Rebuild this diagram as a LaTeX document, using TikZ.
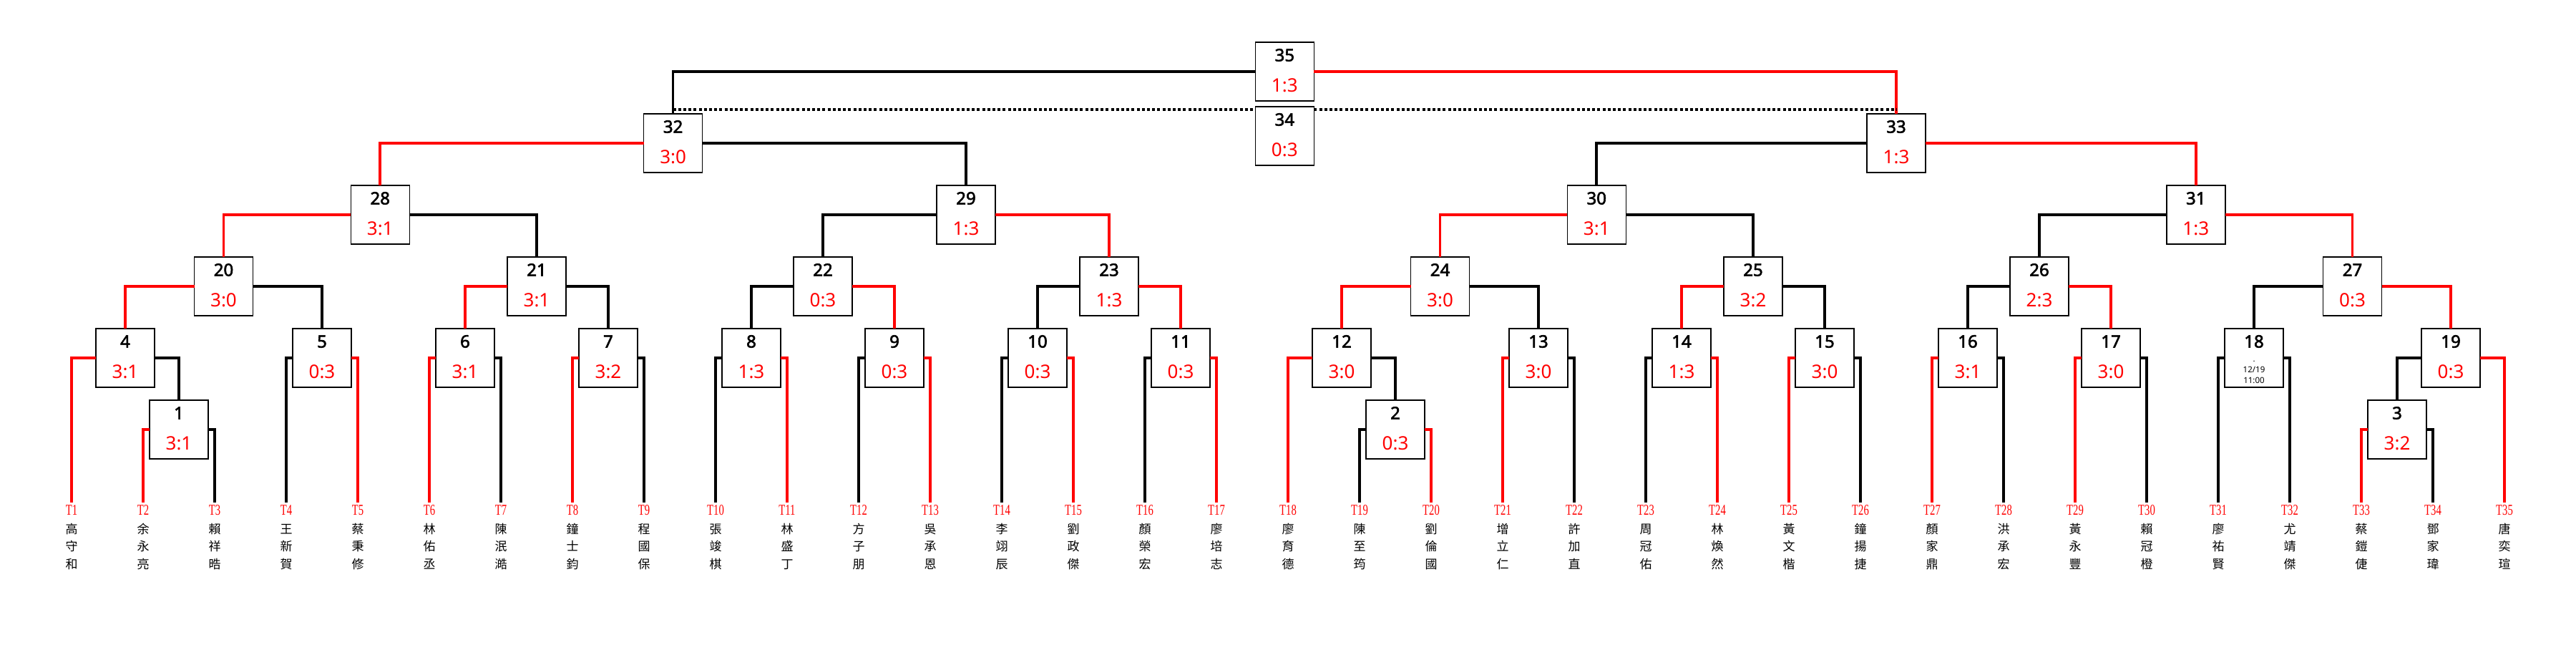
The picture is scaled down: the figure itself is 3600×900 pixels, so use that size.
\documentclass[tikz,border=0pt]{standalone}
\usepackage{fontspec}
\setmainfont{Noto Sans}
\newfontfamily\numfont[FakeBold=2.5]{Noto Sans}
\newfontfamily\cjkfont{Noto Sans CJK TC}
\newfontfamily\tfont[FakeStretch=0.7]{Liberation Serif}
\definecolor{wred}{RGB}{255,0,0}
\tikzset{
 box/.style={draw=black, line width=1.5pt, fill=white, minimum width=82pt, minimum height=82pt, inner sep=0pt, outer sep=0pt},
 numtxt/.style={inner sep=0pt, text height=17.1pt, text depth=0pt, font=\fontsize{24}{24}\selectfont\numfont},
 sctxt/.style={inner sep=0pt, text height=18.6pt, text depth=0pt, text=wred, font=\fontsize{26}{26}\selectfont},
 win/.style={draw=wred, line width=3.6pt},
 lose/.style={draw=black, line width=3.6pt},
 dotline/.style={draw=black, line width=4pt, dash pattern=on 4pt off 3.2pt},
 tlab/.style={inner sep=0pt, text height=13.9pt, text depth=0pt, text=wred, font=\fontsize{21}{21}\selectfont\tfont},
 cjk/.style={inner sep=0pt, text height=15pt, text depth=2pt, font=\fontsize{17}{17}\selectfont\cjkfont},
 smalltxt/.style={inner sep=0pt, text height=8.2pt, text depth=0pt, font=\fontsize{11.5}{11.5}\selectfont},
}
\newcommand\matchnode[4]{%
 \node[box] (m#1) at (#2,#3) {};
 \node[numtxt] (m#1n) at ([yshift=23pt]m#1.center) {#1};
 \node[sctxt] (m#1s) at ([yshift=-19.5pt]m#1.center) {#4};
}
\begin{document}
\begin{tikzpicture}[x=1pt,y=-1pt]
\fill[white] (0,0) rectangle (3600,900);
\useasboundingbox (0,0) rectangle (3600,900);

% leaves
\foreach \i/\a/\b/\c in {1/高/守/和, 2/余/永/亮, 3/賴/祥/晧, 4/王/新/賀, 5/蔡/秉/修,
 6/林/佑/丞, 7/陳/泯/澔, 8/鐘/士/鈞, 9/程/國/保, 10/張/竣/棋, 11/林/盛/丁,
 12/方/子/朋, 13/吳/承/恩, 14/李/翊/辰, 15/劉/政/傑, 16/顏/榮/宏, 17/廖/培/志,
 18/廖/育/德, 19/陳/至/筠, 20/劉/倫/國, 21/增/立/仁, 22/許/加/直, 23/周/冠/佑,
 24/林/煥/然, 25/黃/文/楷, 26/鐘/揚/捷, 27/顏/家/鼎, 28/洪/承/宏, 29/黃/永/豐,
 30/賴/冠/橙, 31/廖/祐/賢, 32/尤/靖/傑, 33/蔡/鎧/倢, 34/鄧/家/瑋, 35/唐/奕/瑄} {
 \coordinate (t\i) at (100*\i,702);
 \node[tlab] (tl\i) at (100*\i,713) {T\i};
 \node[cjk] (na\i) at (100*\i,738.5) {\a};
 \node[cjk] (nb\i) at (100*\i,763) {\b};
 \node[cjk] (nc\i) at (100*\i,787.5) {\c};
}

% round 1
\matchnode{1}{250}{600}{3:1}
\matchnode{2}{1950}{600}{0:3}
\matchnode{3}{3350}{600}{3:2}
% round 2
\matchnode{4}{175}{500}{3:1}
\matchnode{5}{450}{500}{0:3}
\matchnode{6}{650}{500}{3:1}
\matchnode{7}{850}{500}{3:2}
\matchnode{8}{1050}{500}{1:3}
\matchnode{9}{1250}{500}{0:3}
\matchnode{10}{1450}{500}{0:3}
\matchnode{11}{1650}{500}{0:3}
\matchnode{12}{1875}{500}{3:0}
\matchnode{13}{2150}{500}{3:0}
\matchnode{14}{2350}{500}{1:3}
\matchnode{15}{2550}{500}{3:0}
\matchnode{16}{2750}{500}{3:1}
\matchnode{17}{2950}{500}{3:0}
\node[box] (m18) at (3150,500) {};
\node[numtxt] (m18n) at ([yshift=23pt]m18.center) {18};
\node[smalltxt, anchor=base] (m18d) at (3150,505) {.};
\node[smalltxt] (m18a) at (3150,516.7) {12/19};
\node[smalltxt] (m18b) at (3150,531.7) {11:00};
\matchnode{19}{3425}{500}{0:3}
% round 3
\matchnode{20}{312.5}{400}{3:0}
\matchnode{21}{750}{400}{3:1}
\matchnode{22}{1150}{400}{0:3}
\matchnode{23}{1550}{400}{1:3}
\matchnode{24}{2012.5}{400}{3:0}
\matchnode{25}{2450}{400}{3:2}
\matchnode{26}{2850}{400}{2:3}
\matchnode{27}{3287.5}{400}{0:3}
% round 4
\matchnode{28}{531.25}{300}{3:1}
\matchnode{29}{1350}{300}{1:3}
\matchnode{30}{2231.25}{300}{3:1}
\matchnode{31}{3068.75}{300}{1:3}
% semis
\matchnode{32}{940.625}{200}{3:0}
\matchnode{33}{2650}{200}{1:3}
% final and third place
\matchnode{35}{1795.3}{100}{1:3}
\matchnode{34}{1795.3}{190}{0:3}

% connectors
\draw[win] (m1.west) -| (t2);   \draw[lose] (m1.east) -| (t3);
\draw[lose] (m2.west) -| (t19); \draw[win] (m2.east) -| (t20);
\draw[win] (m3.west) -| (t33);  \draw[lose] (m3.east) -| (t34);
\draw[win] (m4.west) -| (t1);   \draw[lose] (m4.east) -| (m1.north);
\draw[lose] (m5.west) -| (t4);  \draw[win] (m5.east) -| (t5);
\draw[win] (m6.west) -| (t6);   \draw[lose] (m6.east) -| (t7);
\draw[win] (m7.west) -| (t8);   \draw[lose] (m7.east) -| (t9);
\draw[lose] (m8.west) -| (t10); \draw[win] (m8.east) -| (t11);
\draw[lose] (m9.west) -| (t12); \draw[win] (m9.east) -| (t13);
\draw[lose] (m10.west) -| (t14); \draw[win] (m10.east) -| (t15);
\draw[lose] (m11.west) -| (t16); \draw[win] (m11.east) -| (t17);
\draw[win] (m12.west) -| (t18);  \draw[lose] (m12.east) -| (m2.north);
\draw[win] (m13.west) -| (t21);  \draw[lose] (m13.east) -| (t22);
\draw[lose] (m14.west) -| (t23); \draw[win] (m14.east) -| (t24);
\draw[win] (m15.west) -| (t25);  \draw[lose] (m15.east) -| (t26);
\draw[win] (m16.west) -| (t27);  \draw[lose] (m16.east) -| (t28);
\draw[win] (m17.west) -| (t29);  \draw[lose] (m17.east) -| (t30);
\draw[lose] (m18.west) -| (t31); \draw[lose] (m18.east) -| (t32);
\draw[lose] (m19.west) -| (m3.north); \draw[win] (m19.east) -| (t35);
\draw[win] (m20.west) -| (m4.north);  \draw[lose] (m20.east) -| (m5.north);
\draw[win] (m21.west) -| (m6.north);  \draw[lose] (m21.east) -| (m7.north);
\draw[lose] (m22.west) -| (m8.north); \draw[win] (m22.east) -| (m9.north);
\draw[lose] (m23.west) -| (m10.north); \draw[win] (m23.east) -| (m11.north);
\draw[win] (m24.west) -| (m12.north); \draw[lose] (m24.east) -| (m13.north);
\draw[win] (m25.west) -| (m14.north); \draw[lose] (m25.east) -| (m15.north);
\draw[lose] (m26.west) -| (m16.north); \draw[win] (m26.east) -| (m17.north);
\draw[lose] (m27.west) -| (m18.north); \draw[win] (m27.east) -| (m19.north);
\draw[win] (m28.west) -| (m20.north); \draw[lose] (m28.east) -| (m21.north);
\draw[lose] (m29.west) -| (m22.north); \draw[win] (m29.east) -| (m23.north);
\draw[win] (m30.west) -| (m24.north); \draw[lose] (m30.east) -| (m25.north);
\draw[lose] (m31.west) -| (m26.north); \draw[win] (m31.east) -| (m27.north);
\draw[win] (m32.west) -| (m28.north); \draw[lose] (m32.east) -| (m29.north);
\draw[lose] (m33.west) -| (m30.north); \draw[win] (m33.east) -| (m31.north);
\draw[lose] (m35.west) -| (m32.north); \draw[win] (m35.east) -| (m33.north);

% third place dotted link
\coordinate (dl) at (940.625,152.7);
\coordinate (dr) at (2650,152.7);
\draw[dotline] (dl) -- (dl -| m34.west);
\draw[dotline] (dr -| m34.east) -- (dr);
\end{tikzpicture}
\end{document}
